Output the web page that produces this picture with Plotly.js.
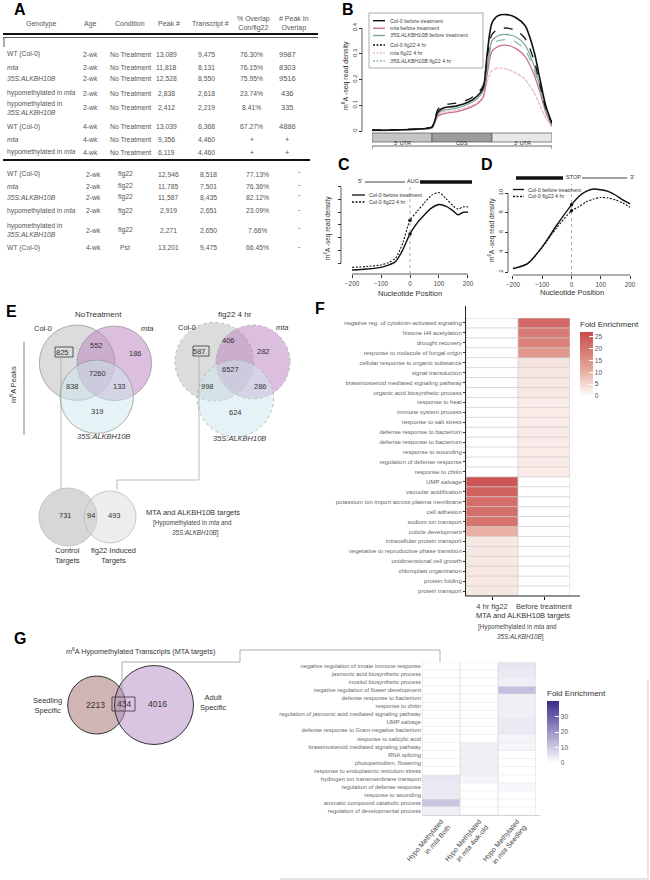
<!DOCTYPE html>
<html><head><meta charset="utf-8">
<script src="https://cdn.plot.ly/plotly-3.0.1.min.js"></script>
<style>html,body{margin:0;padding:0;background:#fff}#chart{width:650px;height:880px}</style>
</head><body><div id="chart"></div>
<script>
// ================= DATA =================
// Panel A table
const tableHeaders = ['Genotype','Age','Condition','Peak #','Transcript #','% Overlap<br>Con/flg22','# Peak In<br>Overlap'];
const genotypes = ['WT (Col-0)','<i>mta</i>','<i>35S:ALKBH10B</i>','hypomethylated in <i>mta</i>','hypomethylated in<br><i>35S:ALKBH10B</i>','WT (Col-0)','<i>mta</i>','hypomethylated in <i>mta</i>',
  'WT (Col-0)','<i>mta</i>','<i>35S:ALKBH10B</i>','hypomethylated in <i>mta</i>','hypomethylated in<br><i>35S:ALKBH10B</i>','WT (Col-0)'];
const ages = ['2-wk','2-wk','2-wk','2-wk','2-wk','4-wk','4-wk','4-wk','2-wk','2-wk','2-wk','2-wk','2-wk','4-wk'];
const conditions = ['No Treatment','No Treatment','No Treatment','No Treatment','No Treatment','No Treatment','No Treatment','No Treatment','flg22','flg22','flg22','flg22','flg22','Pst'];
const peakCounts = ['13,089','11,818','12,528','2,838','2,412','13,039','9,356','6,119','12,946','11,785','11,587','2,919','2,271','13,201'];
const transcriptCounts = ['9,475','8,131','8,550','2,618','2,219','6,368','4,460','4,460','8,518','7,501','8,435','2,651','2,650','9,475'];
const overlapPct = ['76.30%','76.15%','75.95%','23.74%','8.41%','67.27%','+','+','77.13%','76.36%','82.12%','23.09%','7.66%','66.45%'];
const peaksInOverlap = ['9987','8303','9516','436','335','4886','+','+','-','-','-','-','-','-'];

// Panel B metagene
const bRegions = ["5' UTR", 'CDS', "3' UTR"];
const bPos = [0,0.5,0.9,1.0,1.1,1.2,1.4,1.6,1.75,1.85,1.92,2.0,2.1,2.25,2.4,2.55,2.7,2.8,2.9,3.0];
const col0Before = [0.003,0.005,0.010,0.015,0.075,0.090,0.097,0.112,0.135,0.165,0.300,0.420,0.448,0.452,0.440,0.410,0.310,0.200,0.095,0.030];
const mtaBefore  = [0.002,0.004,0.008,0.012,0.058,0.068,0.074,0.088,0.105,0.130,0.220,0.310,0.328,0.333,0.320,0.290,0.220,0.150,0.070,0.020];
const s35Before  = [0.003,0.005,0.009,0.014,0.068,0.082,0.088,0.104,0.125,0.155,0.250,0.350,0.370,0.375,0.365,0.335,0.255,0.170,0.080,0.025];
const col0Flg22  = [0.004,0.006,0.011,0.016,0.085,0.102,0.108,0.122,0.145,0.175,0.290,0.375,0.395,0.400,0.390,0.360,0.275,0.180,0.085,0.030];
const mtaFlg22   = [0.002,0.004,0.008,0.012,0.063,0.075,0.080,0.093,0.108,0.130,0.190,0.235,0.245,0.240,0.225,0.200,0.150,0.100,0.050,0.015];
const s35Flg22   = [0.003,0.005,0.009,0.014,0.073,0.088,0.094,0.110,0.130,0.160,0.245,0.335,0.350,0.355,0.345,0.315,0.240,0.160,0.075,0.025];
const bNames = ['Col-0 before treatment','mta before treatment','35S:ALKBH10B before treatment','Col-0 flg22 4 hr','mta flg22 4 hr','35S:ALKBH10B flg22 4 hr'];

// Panel C (around AUG)
const cPos = [-200,-150,-100,-75,-50,-25,0,25,50,75,100,125,150,165,185,200];
const cBefore = [0.47,0.55,0.68,0.85,1.13,2.05,3.30,4.16,4.80,5.34,5.60,5.45,5.08,4.80,5.00,5.00];
const cFlg22  = [0.68,0.75,0.87,1.05,1.40,2.58,4.37,5.08,5.74,6.34,6.53,6.05,5.47,5.26,5.42,5.42];
// Panel D (around STOP)
const dPos = [-200,-150,-100,-50,0,25,50,75,100,125,150,175,200];
const dBefore = [2.34,2.85,4.55,6.76,8.80,9.65,10.16,10.40,10.33,10.16,9.80,9.30,8.90];
const dFlg22  = [2.34,2.85,4.50,6.50,8.20,8.60,9.10,9.40,9.55,9.50,9.30,9.00,8.55];
const cdNames = ['Col-0 before treatment','Col-0 flg22 4 hr'];

// Panel E Venn counts [Col-0 only, Col-0&mta, mta only, all, Col-0&35S, mta&35S, 35S only]
const noTreatCounts = [825,552,186,7260,838,133,319];
const flg22Counts   = [587,406,282,6527,998,286,624];
const targetCounts  = [731,94,493];   // control only, shared, flg22 induced only

// Panel F heatmap
const fTerms = ['negative reg. of cytokinin-activated signaling','histone H4 acetylation','drought recovery','response to molecule of fungal origin',
 'cellular response to organic substance','signal transduction','brassinosteroid mediated signaling pathway','organic acid biosynthetic process',
 'response to heat','immune system process','response to salt stress','defense response to bacterium','defense response to bacterium',
 'response to wounding','regulation of defense response','response to chitin','UMP salvage','vacuolar acidification',
 'potassium ion import across plasma membrane','cell adhesion','sodium ion transport','cuticle development','intracellular protein transport',
 'vegetative to reproductive phase transition','unidimensional cell growth','chloroplast organization','protein folding','protein transport'];
const fColumns = ['4 hr flg22','Before treatment'];
const fFlg22  = [0,0,0,0,0,0,0,0,0,0,0,0,0,0,0,0,25,23,21,21,20,10,3,3,3,3,3,3];
const fBefore = [22,19,18,14,3.5,3,3,3,2.5,2.5,2.5,2.5,2.5,2.5,2.5,2.5,0,0,0,0,0,0,0,0,0,0,0,0];

// Panel G
const mtaTargetCounts = [2213,434,4016]; // seedling only, shared, adult only
const gTerms = ['negative regulation of innate immune response','jasmonic acid biosynthetic process','inositol biosynthetic process',
 'negative regulation of flower development','defense response to bacterium','response to chitin',
 'regulation of jasmonic acid mediated signaling pathway','UMP salvage','defense response to Gram-negative bacterium',
 'response to salicylic acid','brassinosteroid mediated signaling pathway','RNA splicing','photoperiodism, flowering',
 'response to endoplasmic reticulum stress','hydrogen ion transmembrane transport','regulation of defense response',
 'response to wounding','aromatic compound catabolic process','regulation of developmental process'];
const gColumns = ['Hypo Methylated<br>in <i>mta</i> Both','Hypo Methylated<br>in <i>mta</i> 4wk-old','Hypo Methylated<br>in <i>mta</i> Seedling'];
const gBoth     = [0,0,0,0,0,0,0,0,0,0,0,0,0,0,5,4,4,11,3];
const g4wk      = [0,0,0,0,0,0,0,0,0,0,3,3,3,3,2,0,0,0,0];
const gSeedling = [5,4,3,12,3,3,3,4,4,2,2,0,0,0,0,1.5,0,0,0];

// ================= LAYOUT HELPERS =================
const W = 650, H = 880;
const FONT = 'Liberation Sans, Arial, Helvetica, sans-serif';
const X = p => p / W, Y = p => 1 - p / H;
const shapes = [], annotations = [];
function T(text, x, y, o) {
  o = o || {};
  annotations.push({text: text, x: X(x), y: Y(y), xref: 'paper', yref: 'paper', showarrow: false,
    xanchor: o.xa || 'center', yanchor: 'middle', align: o.align || 'center', textangle: o.angle || 0,
    borderpad: 0, font: {family: FONT, size: o.size || 7, color: o.color || '#444'}});
}
function L(x0, y0, x1, y1, color, width, dash) {
  shapes.push({type: 'line', xref: 'paper', yref: 'paper', x0: X(x0), y0: Y(y0), x1: X(x1), y1: Y(y1),
    line: {color: color || '#999', width: width || 0.8, dash: dash || 'solid'}});
}
function R(x0, y0, x1, y1, fill, color, width) {
  shapes.push({type: 'rect', xref: 'paper', yref: 'paper', x0: X(x0), y0: Y(y1), x1: X(x1), y1: Y(y0),
    fillcolor: fill || 'rgba(0,0,0,0)', line: {color: color || '#333', width: width === undefined ? 0.8 : width}});
}
function Circ(cx, cy, r, fill, color, dash, width) {
  shapes.push({type: 'circle', xref: 'paper', yref: 'paper', x0: X(cx - r), x1: X(cx + r), y0: Y(cy + r), y1: Y(cy - r),
    fillcolor: fill, line: {color: color || '#999', width: width || 0.8, dash: dash || 'solid'}});
}
function Letter(t, x, y) { T('<b>' + t + '</b>', x, y, {size: 16, color: '#000'}); }

// ================= PANEL A =================
Letter('A', 20, 9);
const headX = [41, 90, 130, 169, 210, 253, 294];
tableHeaders.forEach((h, i) => T(h, headX[i], 24, {size: 7, color: '#555'}));
L(3, 34, 318, 34, '#111', 2);
L(3, 37.5, 318, 37.5, '#333', 0.8);
L(4, 37.5, 4, 47, '#333', 0.8);
L(3, 160, 310, 160, '#111', 2);
const rowY = [54, 67, 79, 93, 108, 127, 140, 152, 174, 186, 197, 211, 230, 248];
const colUpper = [6, 90, 130, 166, 206, 252, 287];
const colLower = [6, 93, 125, 168, 208, 257, 299];
genotypes.forEach((g, i) => {
  const c = i < 8 ? colUpper : colLower, y = rowY[i];
  T(g, c[0], y, {xa: 'left', align: 'left', size: 6.8, color: '#555'});
  T(ages[i], c[1], y, {size: 6.8, color: '#555'});
  T(conditions[i], c[2], y, {size: 6.8, color: '#555'});
  T(peakCounts[i], c[3], y, {size: 6.8, color: '#555'});
  T(transcriptCounts[i], c[4], y, {size: 6.8, color: '#555'});
  T(overlapPct[i], c[5], y, {size: 6.8, color: '#555'});
  T(peaksInOverlap[i], c[6], y + (peaksInOverlap[i] === '-' ? -2 : 0), {size: 7.5, color: '#555'});
});

// ================= PANEL B =================
Letter('B', 348, 9);
const bColors = ['#111111', '#d07088', '#7fa7a0', '#111111', '#ebbcc8', '#8cbcb4'];
const bDash = ['solid', 'solid', 'solid', 'dash', 'dash', 'dash'];
const bSeries = [col0Before, mtaBefore, s35Before, col0Flg22, mtaFlg22, s35Flg22];
const traces = [];
const drawOrder = [4, 1, 5, 2, 3, 0];
drawOrder.forEach(i => traces.push({type: 'scatter', mode: 'lines', x: bPos, y: bSeries[i], name: bNames[i], xaxis: 'x', yaxis: 'y',
  line: {color: bColors[i], width: i === 0 ? 1.6 : 1.3, dash: i === 4 ? '4px,1px' : bDash[i], shape: 'spline', smoothing: 0.8}, showlegend: false}));
// y axis line 0..0.4
shapes.push({type: 'line', xref: 'paper', yref: 'y', x0: X(362), x1: X(362), y0: 0, y1: 0.4, line: {color: '#333', width: 0.8}});
T('m<sup>6</sup>A -seq read density', 345, 76, {angle: -90, size: 7, color: '#333'});
// gene structure boxes
const bBoxFill = ['#c4c4c4', '#9c9c9c', '#e8e8e8'];
bRegions.forEach((r, i) => {
  shapes.push({type: 'rect', xref: 'x', yref: 'paper', x0: i, x1: i + 1, y0: Y(142), y1: Y(133), fillcolor: bBoxFill[i], line: {color: '#555', width: 0.7}});
  annotations.push({text: r, x: i + 0.5, y: Y(137.5), xref: 'x', yref: 'paper', showarrow: false, font: {family: FONT, size: 5.5, color: '#333'}});
});
shapes.push({type: 'line', xref: 'x', yref: 'paper', x0: 0, x1: 3, y0: Y(146), y1: Y(146), line: {color: '#444', width: 0.8}});
shapes.push({type: 'line', xref: 'x', yref: 'paper', x0: 0, x1: 0, y0: Y(146), y1: Y(149), line: {color: '#444', width: 0.8}});
shapes.push({type: 'line', xref: 'x', yref: 'paper', x0: 3, x1: 3, y0: Y(146), y1: Y(149), line: {color: '#444', width: 0.8}});
// legend B
R(369, 13, 483, 68, '#ffffff', '#888', 0.7);
const bLegY = [20.7, 28.3, 35.5, 45, 53, 61];
bLegY.forEach((y, i) => {
  L(373, y, 385, y, bColors[i], 1.4, bDash[i] === 'dash' ? '2px,1.5px' : 'solid');
  const nm = bNames[i].replace('mta', '<i>mta</i>').replace('35S:ALKBH10B', '<i>35S:ALKBH10B</i>');
  T(nm, 389, y, {xa: 'left', align: 'left', size: 5.3, color: '#444'});
});

// ================= PANEL C =================
Letter('C', 344, 164);
traces.push({type: 'scatter', mode: 'lines', x: cPos, y: cBefore, xaxis: 'x2', yaxis: 'y2', showlegend: false,
  line: {color: '#111', width: 1.4, shape: 'spline', smoothing: 0.7}});
traces.push({type: 'scatter', mode: 'lines', x: cPos, y: cFlg22, xaxis: 'x2', yaxis: 'y2', showlegend: false,
  line: {color: '#111', width: 1.1, dash: '2px,1.5px', shape: 'spline', smoothing: 0.7}});
const ci = cPos.indexOf(0);
traces.push({type: 'scatter', mode: 'markers', x: [cPos[ci], cPos[ci]], y: [cBefore[ci], cFlg22[ci]], xaxis: 'x2', yaxis: 'y2', showlegend: false,
  marker: {color: '#111', size: 3.5}});
shapes.push({type: 'line', xref: 'x2', yref: 'paper', x0: 0, x1: 0, y0: Y(274), y1: Y(184), line: {color: '#888', width: 0.7, dash: 'dot'}});
shapes.push({type: 'line', xref: 'x2', yref: 'paper', x0: -200, x1: 200, y0: Y(274), y1: Y(274), line: {color: '#333', width: 0.8}});
shapes.push({type: 'line', xref: 'paper', yref: 'y2', x0: X(341), x1: X(341), y0: 1, y1: 7, line: {color: '#333', width: 0.8}});
T('m<sup>6</sup>A -seq read density', 328, 228, {angle: -90, size: 6.5, color: '#333'});
T('Nucleotide Position', 410, 293, {size: 7.5, color: '#333'});
// top bar
T("5'", 360, 181, {size: 6, color: '#333'});
L(365, 182, 405, 182, '#111', 0.8);
T('AUG', 413, 181, {size: 5.5, color: '#333'});
L(420, 182, 472, 182, '#111', 3.5);
// legend C
L(352, 195, 365, 195, '#111', 1.3); T(cdNames[0], 368, 195, {xa: 'left', size: 5.3, color: '#333'});
L(352, 202, 365, 202, '#111', 1.3, '2px,1.5px'); T(cdNames[1], 368, 202, {xa: 'left', size: 5.3, color: '#333'});

// ================= PANEL D =================
Letter('D', 487, 164);
traces.push({type: 'scatter', mode: 'lines', x: dPos, y: dBefore, xaxis: 'x3', yaxis: 'y3', showlegend: false,
  line: {color: '#111', width: 1.4, shape: 'spline', smoothing: 0.7}});
traces.push({type: 'scatter', mode: 'lines', x: dPos, y: dFlg22, xaxis: 'x3', yaxis: 'y3', showlegend: false,
  line: {color: '#111', width: 1.1, dash: '2px,1.5px', shape: 'spline', smoothing: 0.7}});
const di = dPos.indexOf(0);
traces.push({type: 'scatter', mode: 'markers', x: [dPos[di], dPos[di]], y: [dBefore[di], dFlg22[di]], xaxis: 'x3', yaxis: 'y3', showlegend: false,
  marker: {color: '#111', size: 3.5}});
shapes.push({type: 'line', xref: 'x3', yref: 'paper', x0: 0, x1: 0, y0: Y(275), y1: Y(184), line: {color: '#888', width: 0.7, dash: 'dot'}});
shapes.push({type: 'line', xref: 'x3', yref: 'paper', x0: -200, x1: 200, y0: Y(275), y1: Y(275), line: {color: '#333', width: 0.8}});
shapes.push({type: 'line', xref: 'paper', yref: 'y3', x0: X(508), x1: X(508), y0: 2, y1: 10, line: {color: '#333', width: 0.8}});
T('m<sup>6</sup>A -seq read density', 491, 230, {angle: -90, size: 6.5, color: '#333'});
T('Nucleotide Position', 572, 292, {size: 7.5, color: '#333'});
L(516, 178, 563, 178, '#111', 3.5);
T('STOP', 573, 177.5, {size: 5.5, color: '#333'});
L(582, 178, 627, 178, '#111', 0.8);
T("3'", 632, 177.5, {size: 6, color: '#333'});
L(513, 189.5, 524, 189.5, '#111', 1.3); T(cdNames[0], 527, 189.5, {xa: 'left', size: 5.3, color: '#333'});
L(513, 196.5, 524, 196.5, '#111', 1.3, '2px,1.5px'); T(cdNames[1], 527, 196.5, {xa: 'left', size: 5.3, color: '#333'});

// ================= PANEL E =================
Letter('E', 11, 311);
T('NoTreatment', 98, 314, {size: 8, color: '#333'});
T('flg22 4 hr', 235, 314, {size: 8, color: '#333'});
T('m<sup>6</sup>A Peaks', 13, 385, {angle: -90, size: 7.5, color: '#333'});
L(24, 342, 24, 435, '#666', 0.8);
const vennFill = ['rgba(185,185,185,0.5)', 'rgba(185,125,190,0.5)', 'rgba(205,232,238,0.5)'];
// NoTreatment venn
Circ(77, 362.7, 37.7, vennFill[0], '#999');
Circ(114.3, 363.3, 37.3, vennFill[1], '#999');
Circ(96.7, 396.7, 36.7, vennFill[2], '#999');
const v1Pos = [[63, 352], [96, 345], [135, 353], [97, 373], [72, 386], [119, 386], [97, 411]];
noTreatCounts.forEach((n, i) => T(String(n), v1Pos[i][0], v1Pos[i][1], {size: 7.5, color: '#333'}));
R(55, 347, 73, 357, 'rgba(0,0,0,0)', '#333', 0.8);
T('Col-0', 43, 328, {size: 7.5, color: '#333'});
T('<i>mta</i>', 147, 328, {size: 7.5, color: '#333'});
T('<i>35S:ALKBH10B</i>', 103, 436, {size: 7.5, color: '#333'});
// flg22 venn
Circ(214.3, 361.7, 39.3, vennFill[0], '#aaa', 'dot');
Circ(253, 362, 37, vennFill[1], '#aaa', 'dot');
Circ(235.3, 398.3, 38.3, vennFill[2], '#aaa', 'dot');
const v2Pos = [[199, 351], [228, 341], [263, 351], [230, 370], [207, 387], [260, 387], [235, 413]];
flg22Counts.forEach((n, i) => T(String(n), v2Pos[i][0], v2Pos[i][1], {size: 7.5, color: '#333'}));
R(193, 346, 209, 356, 'rgba(0,0,0,0)', '#333', 0.8);
T('Col-0', 187, 327, {size: 7.5, color: '#333'});
T('<i>mta</i>', 282, 327, {size: 7.5, color: '#333'});
T('<i>35S:ALKBH10B</i>', 239, 438, {size: 7.5, color: '#333'});
// connectors
L(61, 357, 61, 490, '#aaa', 0.8);
L(199, 356, 199, 480, '#aaa', 0.8);
L(199, 480, 117, 480, '#aaa', 0.8);
L(117, 480, 117, 490, '#aaa', 0.8);
// targets venn
Circ(68, 517, 29, 'rgba(175,175,175,0.5)', '#bbb');
Circ(110, 517, 26, 'rgba(215,215,215,0.45)', '#bbb');
const v3Pos = [[65, 515], [91, 515], [114, 515]];
targetCounts.forEach((n, i) => T(String(n), v3Pos[i][0], v3Pos[i][1], {size: 7.5, color: '#333'}));
T('Control<br>Targets', 67, 555, {size: 7.5, color: '#333'});
T('flg22 Induced<br>Targets', 113, 555, {size: 7.5, color: '#333'});
T('MTA and ALKBH10B targets', 193, 512, {size: 7.5, color: '#333'});
T('[Hypomethylated in <i>mta</i> and', 193, 523, {size: 6.3, color: '#444'});
T('<i>35S:ALKBH10B</i>]', 195, 533, {size: 6.3, color: '#444'});

// ================= PANEL F =================
Letter('F', 320, 309);
const fIdx = fTerms.map((_, i) => i);
traces.push({type: 'heatmap', x: [0, 1], y: fIdx, z: fTerms.map((_, i) => [fFlg22[i], fBefore[i]]), xaxis: 'x4', yaxis: 'y4',
  zmin: 0, zmax: 27, colorscale: [[0, '#ffffff'], [0.4, '#e6ab9c'], [1, '#c94a4c']],
  colorbar: {x: X(580), xanchor: 'left', y: Y(357), yanchor: 'middle', len: 78, lenmode: 'pixels', thickness: 13, thicknessmode: 'pixels',
    outlinewidth: 0, tickvals: [0, 5, 10, 15, 20, 25], ticks: 'inside', tickcolor: '#fff', ticklen: 4, xpad: 0, ypad: 0,
    tickfont: {family: FONT, size: 6.5, color: '#555'}, title: {text: 'Fold Enrichment', side: 'top', font: {family: FONT, size: 8, color: '#333'}}}});
for (let j = 0; j <= fTerms.length; j++)
  shapes.push({type: 'line', xref: 'x4', yref: 'y4', x0: -0.5, x1: 1.5, y0: j - 0.5, y1: j - 0.5, line: {color: '#cfcfcf', width: 0.8}});
[0, 1, 2].forEach(k => shapes.push({type: 'line', xref: 'x4', yref: 'y4', x0: k - 0.5, x1: k - 0.5, y0: -0.5, y1: fTerms.length - 0.5, line: {color: '#cfcfcf', width: 0.8}}));
L(465.5, 306, 465.5, 596, '#111', 0.9);
L(465.5, 596, 580, 596, '#111', 0.9);
T('MTA and ALKBH10B targets', 523, 615, {size: 7.5, color: '#333'});
T('[Hypomethylated in <i>mta</i> and', 517, 627, {size: 6.3, color: '#444'});
T('<i>35S:ALKBH10B</i>]', 520, 637, {size: 6.3, color: '#444'});

// ================= PANEL G =================
Letter('G', 20, 638);
T('<i>m</i><sup>6</sup>A Hypomethylated Transcripts (MTA targets)', 140, 651, {size: 7.2, color: '#333'});
Circ(96.7, 705, 29, 'rgba(160,110,105,0.5)', '#333', 'solid', 1);
Circ(154, 705, 39.5, 'rgba(180,140,195,0.5)', '#333', 'solid', 1);
const gvPos = [[95, 705], [123.5, 704], [157, 704]];
mtaTargetCounts.forEach((n, i) => T(String(n), gvPos[i][0], gvPos[i][1], {size: 8.5, color: '#333'}));
R(112, 697, 135, 711, 'rgba(0,0,0,0)', '#333', 0.8);
T('Seedling<br>Specific', 47, 705, {size: 7.5, color: '#333'});
T('Adult<br>Specific', 213, 702, {size: 7.5, color: '#333'});
L(122, 697, 122, 662, '#999', 0.8);
L(122, 662, 240, 662, '#999', 0.8);
L(240, 662, 240, 650, '#999', 0.8);
L(240, 650, 440, 650, '#999', 0.8);
L(440, 650, 440, 662, '#999', 0.8);
L(648, 680, 648, 879, '#bbb', 0.8);
L(280, 879, 648, 879, '#bbb', 0.8);
const gIdx = gTerms.map((_, i) => i);
traces.push({type: 'heatmap', x: [0, 1, 2], y: gIdx, z: gTerms.map((_, i) => [gBoth[i], g4wk[i], gSeedling[i]]), xaxis: 'x5', yaxis: 'y5',
  zmin: 0, zmax: 40, colorscale: [[0, '#ffffff'], [1, '#3a2b8c']],
  colorbar: {x: X(547), xanchor: 'left', y: Y(725), yanchor: 'middle', len: 76, lenmode: 'pixels', thickness: 12, thicknessmode: 'pixels',
    outlinewidth: 0, tickvals: [0, 10, 20, 30], ticks: 'inside', tickcolor: '#fff', ticklen: 4, xpad: 0, ypad: 0,
    tickfont: {family: FONT, size: 6.5, color: '#555'}, title: {text: 'Fold Enrichment', side: 'top', font: {family: FONT, size: 8, color: '#333'}}}});
for (let j = 0; j <= gTerms.length; j++)
  shapes.push({type: 'line', xref: 'x5', yref: 'y5', x0: -0.5, x1: 2.5, y0: j - 0.5, y1: j - 0.5, line: {color: '#ececec', width: 0.8}});
[0, 1, 2, 3].forEach(k => shapes.push({type: 'line', xref: 'x5', yref: 'y5', x0: k - 0.5, x1: k - 0.5, y0: -0.5, y1: gTerms.length - 0.5, line: {color: '#dcdcdc', width: 0.9}}));

// ================= AXES =================
const hid = {visible: false, showgrid: false, zeroline: false};
const tf = s => ({family: FONT, size: s, color: '#444'});
const layout = {
  width: W, height: H, margin: {l: 0, r: 0, t: 0, b: 0}, paper_bgcolor: '#fff', plot_bgcolor: 'rgba(0,0,0,0)', showlegend: false,
  font: {family: FONT},
  xaxis: Object.assign({}, hid, {domain: [X(372), X(552)], range: [0, 3], anchor: 'y'}),
  yaxis: {domain: [Y(132.3), Y(12.6)], range: [-0.005, 0.46], anchor: 'free', position: X(362), showgrid: false, zeroline: false, showline: false,
    tickvals: [0, 0.1, 0.2, 0.3, 0.4], ticktext: ['0', '0.1', '0.2', '0.3', '0.4'], tickangle: -90, ticks: 'outside', ticklen: 3, tickcolor: '#333', tickfont: tf(6)},
  xaxis2: {domain: [X(347.4), X(472.6)], range: [-216, 216], anchor: 'free', position: Y(274), showgrid: false, zeroline: false, showline: false,
    tickvals: [-200, -100, 0, 100, 200], ticks: 'outside', ticklen: 3, tickcolor: '#333', tickfont: tf(6.3)},
  yaxis2: {domain: [Y(273), Y(185)], range: [0.24, 7.13], anchor: 'free', position: X(341), showgrid: false, zeroline: false, showline: false,
    tickvals: [1, 2, 3, 4, 5, 6, 7], showticklabels: false, ticks: 'outside', ticklen: 3, tickcolor: '#333'},
  xaxis3: {domain: [X(508.3), X(634.7)], range: [-216, 216], anchor: 'free', position: Y(275), showgrid: false, zeroline: false, showline: false,
    tickvals: [-200, -100, 0, 100, 200], ticks: 'outside', ticklen: 3, tickcolor: '#333', tickfont: tf(6.3)},
  yaxis3: {domain: [Y(275.95), Y(186.1)], range: [1.6, 10.7], anchor: 'free', position: X(508), showgrid: false, zeroline: false, showline: false,
    tickvals: [2, 4, 6, 8, 10], tickangle: -90, ticks: 'outside', ticklen: 3, tickcolor: '#333', tickfont: tf(6)},
  xaxis4: {domain: [X(466), X(570)], range: [-0.5, 1.5], anchor: 'y4', showgrid: false, zeroline: false, showline: false,
    tickvals: [0, 1], ticktext: fColumns, ticks: 'outside', ticklen: 3, tickcolor: '#111', tickfont: tf(7.5)},
  yaxis4: {domain: [Y(596), Y(318)], range: [fTerms.length - 0.5, -0.5], anchor: 'x4', showgrid: false, zeroline: false, showline: false,
    tickvals: fIdx, ticktext: fTerms, ticks: 'outside', ticklen: 2, tickcolor: '#333', tickfont: {family: FONT, size: 6, color: '#666'}},
  xaxis5: {domain: [X(422), X(536)], range: [-0.5, 2.5], anchor: 'y5', showgrid: false, zeroline: false, showline: false,
    tickvals: [0, 1, 2], ticktext: gColumns, tickangle: -50, ticks: '', tickfont: {family: FONT, size: 7, color: '#444'}},
  yaxis5: {domain: [Y(815), Y(662)], range: [gTerms.length - 0.5, -0.5], anchor: 'x5', showgrid: false, zeroline: false, showline: false,
    tickvals: gIdx, ticktext: gTerms, ticks: '', tickfont: {family: FONT, size: 5.8, color: '#666'}},
  shapes: shapes, annotations: annotations
};
shapes.push({type: 'line', xref: 'paper', yref: 'paper', x0: X(422), x1: X(540), y0: Y(815.5), y1: Y(815.5), line: {color: '#ccc', width: 0.8}});
Plotly.newPlot('chart', traces, layout, {staticPlot: true, displayModeBar: false});
</script>
</body></html>
